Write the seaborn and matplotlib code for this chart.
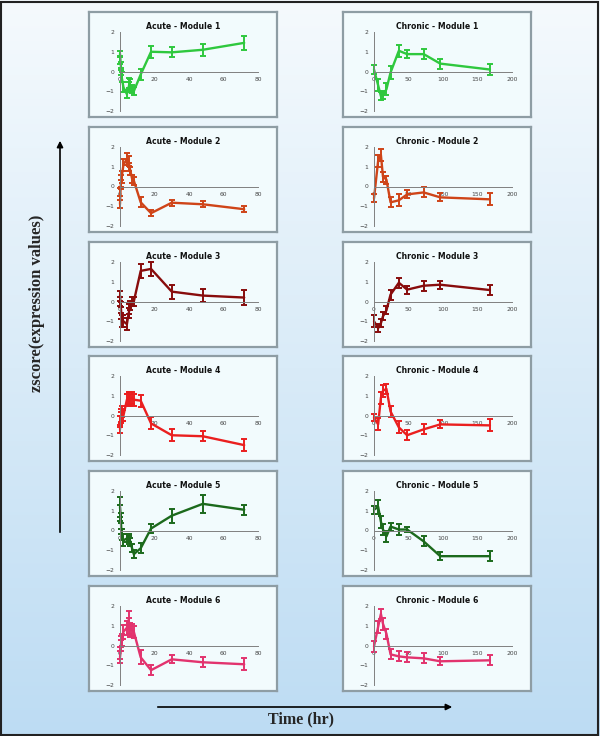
import matplotlib
matplotlib.use("Agg")
import matplotlib.pyplot as plt
from matplotlib.colors import LinearSegmentedColormap
import seaborn as sns
import numpy as np
import pandas as pd

# sampling times (hr)
acute_time = [0, 0.25, 0.5, 0.75, 1, 2, 4, 5, 5.5, 6, 7, 8, 12, 18, 30, 48, 72]
chronic_time = [0, 6, 10, 13, 18, 24, 36, 48, 72, 96, 168]

# acute zscores + errors
acute_m1 = [0.9, 0.6, 0.3, 0.0, -0.3, -0.8, -1.15, -0.8, -0.6, -0.7, -0.9, -1.0, -0.15, 1.0, 0.97, 1.1, 1.45]
acute_m1_err = [0.15, 0.2, 0.2, 0.2, 0.25, 0.25, 0.2, 0.25, 0.25, 0.3, 0.2, 0.2, 0.3, 0.3, 0.25, 0.3, 0.35]
acute_m2 = [-0.9, -0.3, 0.1, 0.3, 0.5, 1.1, 1.4, 1.3, 1.0, 0.8, 0.4, 0.3, -0.8, -1.35, -0.82, -0.9, -1.15]
acute_m2_err = [0.2, 0.2, 0.25, 0.3, 0.3, 0.3, 0.3, 0.25, 0.2, 0.2, 0.2, 0.2, 0.25, 0.15, 0.15, 0.15, 0.15]
acute_m3 = [0.3, 0.0, -0.3, -0.6, -1.0, -1.0, -1.15, -0.6, -0.4, -0.2, 0.0, 0.0, 1.55, 1.65, 0.5, 0.3, 0.2]
acute_m3_err = [0.25, 0.25, 0.3, 0.3, 0.3, 0.3, 0.3, 0.25, 0.25, 0.25, 0.25, 0.25, 0.35, 0.35, 0.35, 0.35, 0.4]
acute_m4 = [-0.7, -0.3, 0.0, -0.1, 0.2, 0.0, 0.8, 0.9, 0.85, 0.8, 0.9, 0.8, 0.75, -0.4, -1.0, -1.05, -1.5]
acute_m4_err = [0.2, 0.3, 0.35, 0.3, 0.3, 0.3, 0.3, 0.3, 0.35, 0.3, 0.3, 0.3, 0.3, 0.3, 0.3, 0.25, 0.3]
acute_m5 = [1.2, 0.9, 0.5, 0.1, -0.2, -0.5, -0.4, -0.5, -0.4, -0.6, -0.9, -1.2, -0.9, 0.1, 0.75, 1.35, 1.05]
acute_m5_err = [0.5, 0.4, 0.4, 0.3, 0.3, 0.3, 0.2, 0.2, 0.2, 0.2, 0.2, 0.2, 0.25, 0.25, 0.35, 0.45, 0.25]
acute_m6 = [-0.6, -0.4, 0.0, 0.2, 0.3, 0.7, 0.9, 1.3, 1.0, 0.8, 0.8, 0.7, -0.6, -1.25, -0.7, -0.85, -0.95]
acute_m6_err = [0.3, 0.3, 0.3, 0.3, 0.3, 0.35, 0.35, 0.45, 0.4, 0.35, 0.3, 0.3, 0.35, 0.25, 0.2, 0.25, 0.3]

# chronic zscores + errors
chronic_m1 = [0.1, -0.7, -1.25, -1.2, -0.9, -0.05, 1.05, 0.88, 0.88, 0.4, 0.1]
chronic_m1_err = [0.25, 0.3, 0.2, 0.2, 0.3, 0.35, 0.3, 0.2, 0.25, 0.25, 0.3]
chronic_m2 = [-0.6, 1.3, 1.6, 0.5, 0.35, -0.8, -0.7, -0.4, -0.3, -0.55, -0.65]
chronic_m2_err = [0.2, 0.3, 0.3, 0.25, 0.2, 0.25, 0.3, 0.2, 0.25, 0.2, 0.3]
chronic_m3 = [-1.0, -1.35, -1.1, -0.75, -0.45, 0.35, 0.95, 0.6, 0.8, 0.85, 0.58]
chronic_m3_err = [0.3, 0.2, 0.2, 0.2, 0.2, 0.25, 0.25, 0.2, 0.25, 0.2, 0.25]
chronic_m4 = [-0.1, -0.45, 0.9, 1.25, 1.35, 0.2, -0.6, -1.0, -0.7, -0.45, -0.5]
chronic_m4_err = [0.2, 0.3, 0.3, 0.3, 0.25, 0.3, 0.3, 0.25, 0.25, 0.2, 0.3]
chronic_m5 = [1.05, 1.2, 0.45, 0.05, -0.3, 0.2, 0.05, 0.05, -0.55, -1.3, -1.3]
chronic_m5_err = [0.2, 0.35, 0.3, 0.3, 0.3, 0.2, 0.3, 0.15, 0.25, 0.2, 0.25]
chronic_m6 = [-0.05, 0.95, 1.6, 1.1, 0.6, -0.45, -0.55, -0.6, -0.65, -0.8, -0.75]
chronic_m6_err = [0.3, 0.3, 0.25, 0.3, 0.25, 0.25, 0.25, 0.25, 0.25, 0.2, 0.25]

module_colors = ["#2fc83e", "#cf4418", "#880c0c", "#ea1f1f", "#1c6a1c", "#e2336e"]

acute_vals = [acute_m1, acute_m2, acute_m3, acute_m4, acute_m5, acute_m6]
acute_errs = [acute_m1_err, acute_m2_err, acute_m3_err, acute_m4_err, acute_m5_err, acute_m6_err]
chronic_vals = [chronic_m1, chronic_m2, chronic_m3, chronic_m4, chronic_m5, chronic_m6]
chronic_errs = [chronic_m1_err, chronic_m2_err, chronic_m3_err, chronic_m4_err, chronic_m5_err, chronic_m6_err]

W, H = 600, 736
sns.set_style("white")
fig = plt.figure(figsize=(6, 7.36), dpi=100)

# background gradient
bg = fig.add_axes([0, 0, 1, 1], zorder=-10)
cmap = LinearSegmentedColormap.from_list("bg", ["#f5fafd", "#bddcf3"])
bg.imshow(np.linspace(0, 1, 256).reshape(-1, 1), aspect="auto", cmap=cmap,
          extent=[0, 1, 0, 1], origin="upper")
bg.set_xlim(0, 1)
bg.set_ylim(0, 1)
bg.axis("off")
bg.add_patch(plt.Rectangle((0.002, 0.002), 0.995, 0.995, fill=False,
                           edgecolor="#222222", lw=1.5))


def px(x, y, w, h):
    return [x / W, 1 - (y + h) / H, w / W, h / H]


def draw_panel(x0, y0, t, vals, errs, color, title, xmax, xticks):
    pan = fig.add_axes(px(x0, y0, 188, 105), zorder=-5)
    pan.set_facecolor("#f2fbfd")
    pan.set_xticks([])
    pan.set_yticks([])
    for s in pan.spines.values():
        s.set_color("#8e9da4")
        s.set_linewidth(1.6)
    pan.text(0.5, 0.865, title, transform=pan.transAxes, ha="center", va="center",
             fontsize=5.6, fontweight="bold", color="#111111")

    ax = fig.add_axes(px(x0 + 31, y0 + 20, 138, 79))
    ax.set_facecolor("none")
    df = pd.DataFrame({"time": t, "z": vals})
    sns.lineplot(data=df, x="time", y="z", ax=ax, color=color, lw=1.7,
                 sort=False, clip_on=False)
    ax.errorbar(t, vals, yerr=errs, fmt="none", ecolor=color, elinewidth=1.4,
                capsize=2.3, capthick=1.4, clip_on=False)
    ax.set_xlim(0, xmax)
    ax.set_ylim(-2, 2)
    ax.set_xticks(xticks)
    ax.set_yticks([-2, -1, 0, 1, 2])
    ax.set_xlabel("")
    ax.set_ylabel("")
    ax.spines["bottom"].set_position(("data", 0))
    ax.spines["top"].set_visible(False)
    ax.spines["right"].set_visible(False)
    for s in ("bottom", "left"):
        ax.spines[s].set_color("#808080")
        ax.spines[s].set_linewidth(0.7)
    ax.tick_params(axis="both", labelsize=4.3, length=2, width=0.6,
                   color="#808080", labelcolor="#444444", pad=2)


row_tops = [12, 127, 242, 356, 471, 586]
for i in range(6):
    draw_panel(89, row_tops[i], acute_time, acute_vals[i], acute_errs[i],
               module_colors[i], f"Acute - Module {i + 1}", 80, [0, 20, 40, 60, 80])
    draw_panel(343, row_tops[i], chronic_time, chronic_vals[i], chronic_errs[i],
               module_colors[i], f"Chronic - Module {i + 1}", 200, [0, 50, 100, 150, 200])

# axis arrows and labels
bg.annotate("", xy=(60 / W, 1 - 138 / H), xytext=(60 / W, 1 - 535 / H),
            arrowprops=dict(arrowstyle="-|>", color="black", lw=1.2, mutation_scale=9))
bg.annotate("", xy=(455 / W, 1 - 707 / H), xytext=(155 / W, 1 - 707 / H),
            arrowprops=dict(arrowstyle="-|>", color="black", lw=1.2, mutation_scale=9))
fig.text(37 / W, 1 - 303 / H, "zscore(expression values)", rotation=90,
         ha="center", va="center", fontsize=12, fontweight="bold",
         family="Liberation Serif")
fig.text(301 / W, 1 - 719 / H, "Time (hr)", ha="center", va="center",
         fontsize=11.5, fontweight="bold", family="Liberation Serif")

fig.savefig("out.png", dpi=100)
